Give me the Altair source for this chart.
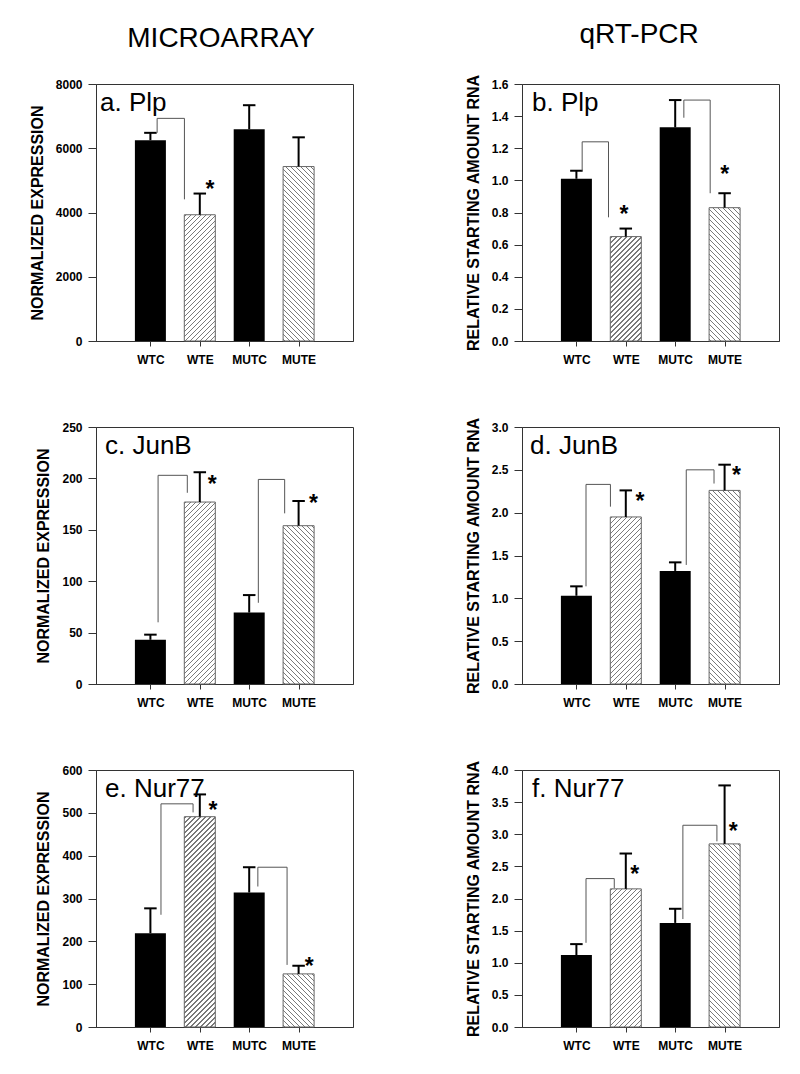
import json
import altair as alt
import pandas as pd

FONT = "Liberation Sans"

# ---------------- data ----------------
CATS = ["WTC", "WTE", "MUTC", "MUTE"]
HATCH = [None, "/", None, "\\"]          # fill style per group (None = solid black)

A_MEAN = [6250, 3930, 6590, 5430]
A_SEM = [230, 660, 750, 910]
B_MEAN = [1.01, 0.65, 1.33, 0.83]
B_SEM = [0.05, 0.05, 0.17, 0.09]
C_MEAN = [43, 177, 69.5, 154]
C_SEM = [5, 29, 17, 24]
D_MEAN = [1.03, 1.95, 1.32, 2.26]
D_SEM = [0.11, 0.31, 0.10, 0.30]
E_MEAN = [219, 491, 314, 124]
E_SEM = [58, 52, 59, 19]
F_MEAN = [1.12, 2.15, 1.62, 2.85]
F_SEM = [0.17, 0.55, 0.22, 0.91]

# significance brackets: (left bar, right bar, left foot, top, right foot)
A_BRACKETS = [(0, 1, 6480, 6930, 4410)]
B_BRACKETS = [(0, 1, 1.06, 1.24, 0.77), (2, 3, 1.39, 1.50, 0.92)]
C_BRACKETS = [(0, 1, 60, 203, 186), (2, 3, 79, 199, 166)]
D_BRACKETS = [(0, 1, 1.14, 2.33, 2.07), (2, 3, 1.39, 2.50, 2.34)]
E_BRACKETS = [(0, 1, 262, 521, 501), (2, 3, 328, 373, 145)]
F_BRACKETS = [(0, 1, 1.31, 2.31, 2.16), (2, 3, 1.68, 3.14, 2.89)]

# asterisks: (bar, level)
A_STARS = [(1, 4890)]
B_STARS = [(1, 0.82), (3, 1.07)]
C_STARS = [(1, 199), (3, 181)]
D_STARS = [(1, 2.19), (3, 2.50)]
E_STARS = [(1, 518), (3, 153)]
F_STARS = [(1, 2.46), (3, 3.13)]

# ---------------- layout / style ----------------
PLOT_W = 257
PLOT_H = 257
X_MAX = 5
BAR_W = 31
CAP_PX = 13
HATCH_PERIOD = 5.0
HATCH_LINE = 1.3
HATCH_COLOR = "#7a7a7a"

# leg offsets (px from bar centre) for brackets, and star offsets (px)
A_LEG = [(7, -16)]
B_LEG = [(6, -18), (9, -15)]
C_LEG = [(8, -13), (9.5, -14.5)]
D_LEG = [(10, -16), (11.5, -11)]
E_LEG = [(11, -7), (9, -12)]
F_LEG = [(10, -12), (8, -8)]
A_STAR_DX = [10.5]
B_STAR_DX = [-2, 0]
C_STAR_DX = [13, 15.5]
D_STAR_DX = [14.7, 12.4]
E_STAR_DX = [13.7, 11]
F_STAR_DX = [9.3, 9]

MICRO_TITLE = "NORMALIZED EXPRESSION"
QPCR_TITLE = "RELATIVE STARTING AMOUNT RNA"

PANELS = {
    "a": dict(label="a. Plp", mean=A_MEAN, sem=A_SEM, ymax=8000, ticks=[0, 2000, 4000, 6000, 8000],
              fmt="d", title=MICRO_TITLE, br=A_BRACKETS, leg=A_LEG, st=A_STARS, sdx=A_STAR_DX, lx=4),
    "b": dict(label="b. Plp", mean=B_MEAN, sem=B_SEM, ymax=1.6,
              ticks=[0, 0.2, 0.4, 0.6, 0.8, 1.0, 1.2, 1.4, 1.6],
              fmt=".1f", title=QPCR_TITLE, br=B_BRACKETS, leg=B_LEG, st=B_STARS, sdx=B_STAR_DX, lx=10),
    "c": dict(label="c. JunB", mean=C_MEAN, sem=C_SEM, ymax=250, ticks=[0, 50, 100, 150, 200, 250],
              fmt="d", title=MICRO_TITLE, br=C_BRACKETS, leg=C_LEG, st=C_STARS, sdx=C_STAR_DX, lx=9),
    "d": dict(label="d. JunB", mean=D_MEAN, sem=D_SEM, ymax=3.0, ticks=[0, 0.5, 1.0, 1.5, 2.0, 2.5, 3.0],
              fmt=".1f", title=QPCR_TITLE, br=D_BRACKETS, leg=D_LEG, st=D_STARS, sdx=D_STAR_DX, lx=8),
    "e": dict(label="e. Nur77", mean=E_MEAN, sem=E_SEM, ymax=600, ticks=[0, 100, 200, 300, 400, 500, 600],
              fmt="d", title=MICRO_TITLE, br=E_BRACKETS, leg=E_LEG, st=E_STARS, sdx=E_STAR_DX, lx=9),
    "f": dict(label="f. Nur77", mean=F_MEAN, sem=F_SEM, ymax=4.0,
              ticks=[0, 0.5, 1.0, 1.5, 2.0, 2.5, 3.0, 3.5, 4.0],
              fmt=".1f", title=QPCR_TITLE, br=F_BRACKETS, leg=F_LEG, st=F_STARS, sdx=F_STAR_DX, lx=10),
}


def hatch_fill(w, h, direction):
    """Striped linear gradient giving 45-degree hatching on a w x h px bar."""
    span = w + h
    t = span / (w * w + h * h)
    if direction == "/":
        x1, y1, x2, y2 = 0, 0, w * t, h * t
    else:
        x1, y1, x2, y2 = 0, 1, w * t, 1 - h * t
    stops = [{"offset": 0, "color": "#ffffff"}]
    k = 0
    while True:
        a = (k * HATCH_PERIOD + 1.0) / span
        b = (k * HATCH_PERIOD + 1.0 + HATCH_LINE) / span
        if b >= 1:
            break
        stops += [{"offset": a, "color": "#ffffff"}, {"offset": a, "color": HATCH_COLOR},
                  {"offset": b, "color": HATCH_COLOR}, {"offset": b, "color": "#ffffff"}]
        k += 1
    stops.append({"offset": 1, "color": "#ffffff"})
    return {"gradient": "linear", "x1": x1, "y1": y1, "x2": x2, "y2": y2, "stops": stops}


def panel(p):
    px2u = X_MAX / PLOT_W
    df = pd.DataFrame({"cat": CATS, "pos": [1, 2, 3, 4], "mean": p["mean"], "sem": p["sem"]})
    df["top"] = df["mean"] + df["sem"]

    xs = alt.Scale(domain=[0, X_MAX], nice=False, zero=False)
    ys = alt.Scale(domain=[0, p["ymax"]], nice=False)
    label_expr = json.dumps(CATS) + "[datum.value - 1]"
    xaxis = alt.Axis(values=[1, 2, 3, 4], labelExpr=label_expr, title=None, grid=False)
    yaxis = alt.Axis(values=p["ticks"], format=p["fmt"], title=p["title"], grid=False)

    def X(f):
        return alt.X(f, type="quantitative", scale=xs, axis=xaxis)

    def Y(f):
        return alt.Y(f, type="quantitative", scale=ys, axis=yaxis)

    layers = []
    solid = df[[h is None for h in HATCH]]
    layers.append(alt.Chart(solid).mark_bar(size=BAR_W, color="black", orient="vertical")
                  .encode(x=X("pos"), y=Y("mean")))
    for i, hs in enumerate(HATCH):
        if hs is None:
            continue
        h_px = p["mean"][i] / p["ymax"] * PLOT_H
        layers.append(alt.Chart(df.iloc[[i]]).mark_bar(
            size=BAR_W, orient="vertical", fill=hatch_fill(BAR_W, h_px, hs),
            stroke="#666666", strokeWidth=1).encode(x=X("pos"), y=Y("mean")))

    layers.append(alt.Chart(df).mark_rule(color="black", strokeWidth=2)
                  .encode(x=X("pos"), y=Y("mean"), y2="top"))
    cap = CAP_PX / 2 * px2u
    layers.append(alt.Chart(df).transform_calculate(
        xl=f"datum.pos - {cap}", xr=f"datum.pos + {cap}")
        .mark_rule(color="black", strokeWidth=2)
        .encode(x=X("xl:Q"), x2="xr:Q", y=Y("top")))

    rows = []
    for j, ((li, ri, lf, top, rf), (ldx, rdx)) in enumerate(zip(p["br"], p["leg"])):
        xl = li + 1 + ldx * px2u
        xr = ri + 1 + rdx * px2u
        for k, (xx, yy) in enumerate([(xl, lf), (xl, top), (xr, top), (xr, rf)]):
            rows.append({"id": j, "k": k, "x": xx, "y": yy})
    bdf = pd.DataFrame(rows)
    layers.append(alt.Chart(bdf).mark_line(color="#555555", strokeWidth=1)
                  .encode(x=X("x"), y=Y("y"), detail="id:N", order="k:Q"))

    sdf = pd.DataFrame([{"x": b + 1 + dx * px2u, "y": lv} for (b, lv), dx in zip(p["st"], p["sdx"])])
    layers.append(alt.Chart(sdf).mark_text(text="*", fontSize=23, fontWeight="bold", font=FONT,
                                           baseline="alphabetic", dy=13, color="black")
                  .encode(x=X("x"), y=Y("y")))

    ldf = pd.DataFrame({"t": [p["label"]]})
    layers.append(alt.Chart(ldf).mark_text(align="left", baseline="alphabetic", fontSize=26,
                                           font=FONT, color="black")
                  .encode(x=alt.value(p["lx"]), y=alt.value(27), text="t:N"))

    return alt.layer(*layers).properties(width=PLOT_W, height=PLOT_H)


VSP_LEFT = 54
VSP_RIGHT = 50
HSP = 110
left = alt.vconcat(panel(PANELS["a"]), panel(PANELS["c"]), panel(PANELS["e"]), spacing=VSP_LEFT).properties(
    title=alt.TitleParams("MICROARRAY", fontSize=28, fontWeight="normal", font=FONT, anchor="middle",
                          dx=30, offset=25, color="black"))
right = alt.vconcat(panel(PANELS["b"]), panel(PANELS["d"]), panel(PANELS["f"]), spacing=VSP_RIGHT).properties(
    title=alt.TitleParams("qRT-PCR", fontSize=28, fontWeight="normal", font=FONT, anchor="middle",
                          dx=17, offset=25, color="black"))

chart = (
    alt.hconcat(left, right, spacing=HSP)
    .properties(background="white", padding={"left": 20, "top": 12, "right": 5, "bottom": 5})
    .configure_view(stroke="#333333", strokeWidth=1)
    .configure_axis(domainColor="#333333", tickColor="#333333", labelColor="black", titleColor="black",
                    labelFont=FONT, titleFont=FONT, labelFontSize=12, labelFontWeight="bold",
                    titleFontSize=16, titleFontWeight="bold")
    .configure_axisX(tickSize=5, labelPadding=8)
    .configure_axisY(tickSize=8, labelPadding=6, titlePadding=10)
)

chart.save("out.html", embed_options={"renderer": "svg", "actions": False})
